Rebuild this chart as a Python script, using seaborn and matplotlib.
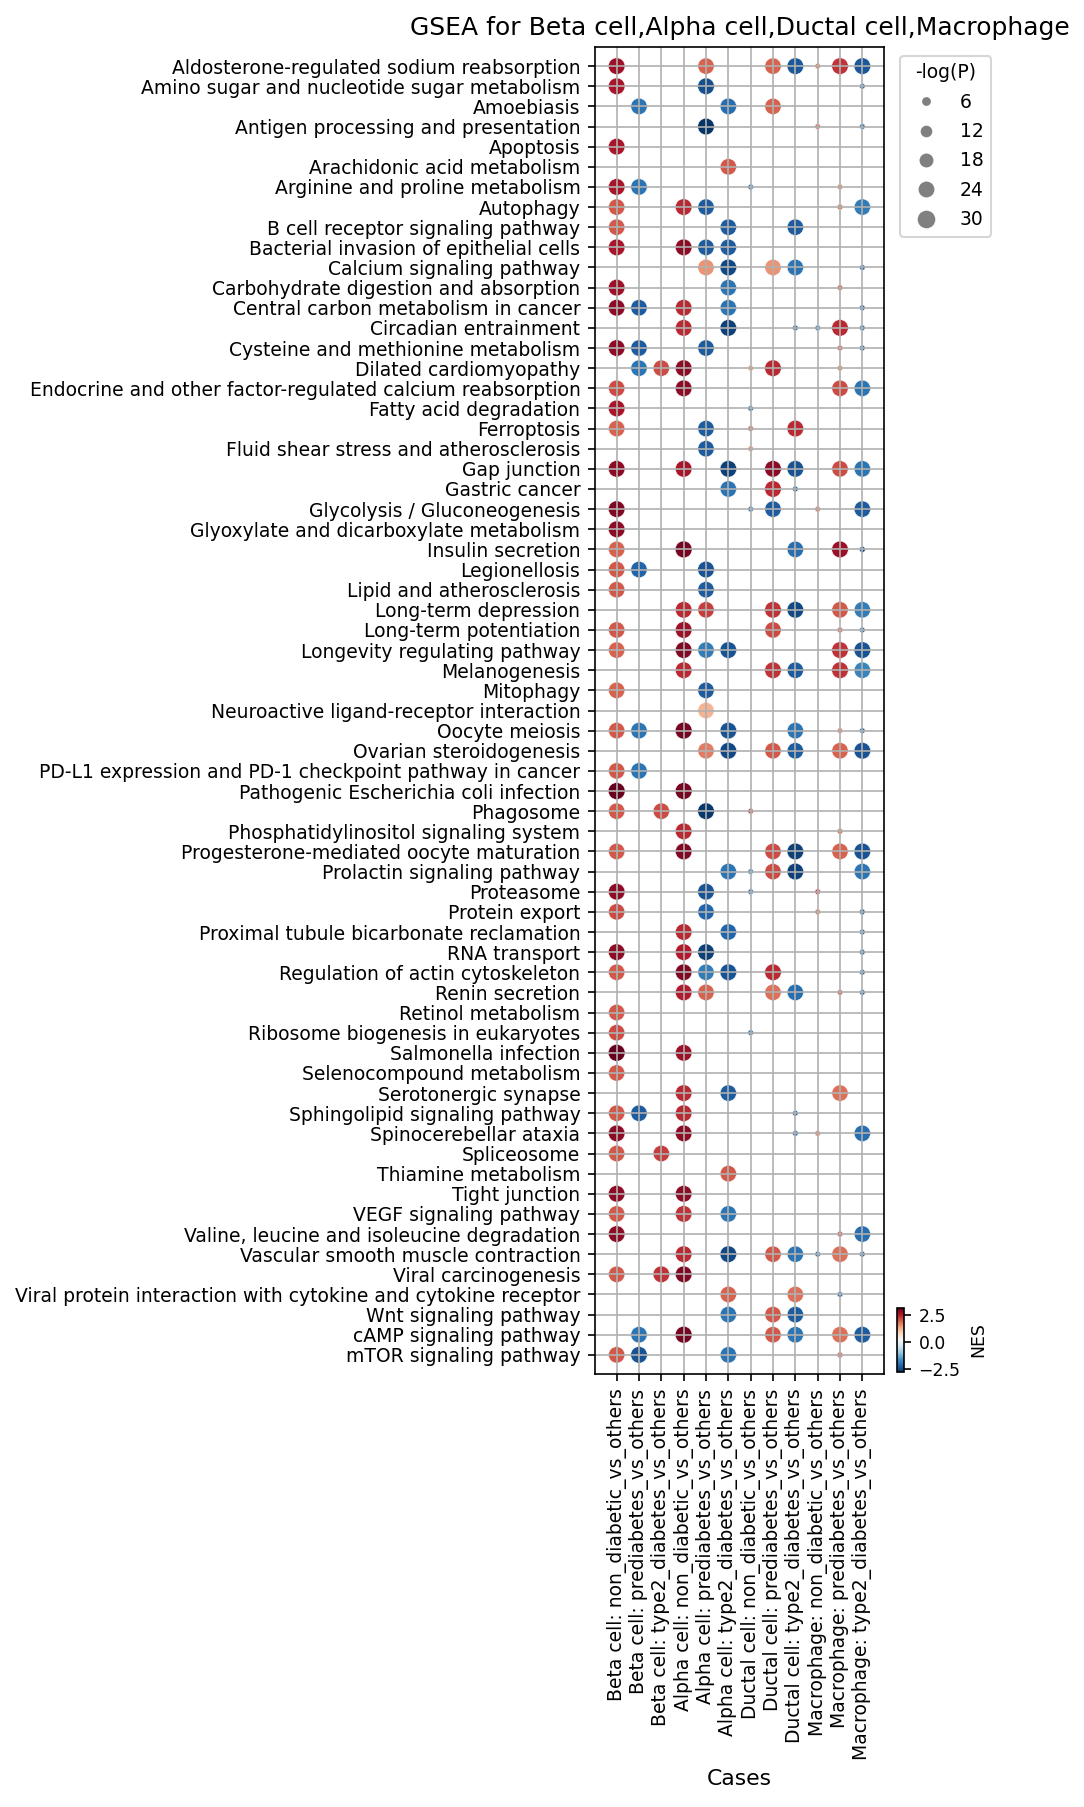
import numpy as np
import pandas as pd
import matplotlib
matplotlib.use("Agg")
import matplotlib.pyplot as plt
from matplotlib.colors import Normalize
from matplotlib.cm import ScalarMappable
from matplotlib.lines import Line2D
import seaborn as sns

_ = None  # no dot for this pathway / case

pathways = [
    "Aldosterone-regulated sodium reabsorption",
    "Amino sugar and nucleotide sugar metabolism",
    "Amoebiasis",
    "Antigen processing and presentation",
    "Apoptosis",
    "Arachidonic acid metabolism",
    "Arginine and proline metabolism",
    "Autophagy",
    "B cell receptor signaling pathway",
    "Bacterial invasion of epithelial cells",
    "Calcium signaling pathway",
    "Carbohydrate digestion and absorption",
    "Central carbon metabolism in cancer",
    "Circadian entrainment",
    "Cysteine and methionine metabolism",
    "Dilated cardiomyopathy",
    "Endocrine and other factor-regulated calcium reabsorption",
    "Fatty acid degradation",
    "Ferroptosis",
    "Fluid shear stress and atherosclerosis",
    "Gap junction",
    "Gastric cancer",
    "Glycolysis / Gluconeogenesis",
    "Glyoxylate and dicarboxylate metabolism",
    "Insulin secretion",
    "Legionellosis",
    "Lipid and atherosclerosis",
    "Long-term depression",
    "Long-term potentiation",
    "Longevity regulating pathway",
    "Melanogenesis",
    "Mitophagy",
    "Neuroactive ligand-receptor interaction",
    "Oocyte meiosis",
    "Ovarian steroidogenesis",
    "PD-L1 expression and PD-1 checkpoint pathway in cancer",
    "Pathogenic Escherichia coli infection",
    "Phagosome",
    "Phosphatidylinositol signaling system",
    "Progesterone-mediated oocyte maturation",
    "Prolactin signaling pathway",
    "Proteasome",
    "Protein export",
    "Proximal tubule bicarbonate reclamation",
    "RNA transport",
    "Regulation of actin cytoskeleton",
    "Renin secretion",
    "Retinol metabolism",
    "Ribosome biogenesis in eukaryotes",
    "Salmonella infection",
    "Selenocompound metabolism",
    "Serotonergic synapse",
    "Sphingolipid signaling pathway",
    "Spinocerebellar ataxia",
    "Spliceosome",
    "Thiamine metabolism",
    "Tight junction",
    "VEGF signaling pathway",
    "Valine, leucine and isoleucine degradation",
    "Vascular smooth muscle contraction",
    "Viral carcinogenesis",
    "Viral protein interaction with cytokine and cytokine receptor",
    "Wnt signaling pathway",
    "cAMP signaling pathway",
    "mTOR signaling pathway",
]

cases = [
    "Beta cell: non_diabetic_vs_others",
    "Beta cell: prediabetes_vs_others",
    "Beta cell: type2_diabetes_vs_others",
    "Alpha cell: non_diabetic_vs_others",
    "Alpha cell: prediabetes_vs_others",
    "Alpha cell: type2_diabetes_vs_others",
    "Ductal cell: non_diabetic_vs_others",
    "Ductal cell: prediabetes_vs_others",
    "Ductal cell: type2_diabetes_vs_others",
    "Macrophage: non_diabetic_vs_others",
    "Macrophage: prediabetes_vs_others",
    "Macrophage: type2_diabetes_vs_others",
]

# NES per pathway (rows) and case (columns)
nes = [
    [2.7, _, _, _, 1.9, _, _, 1.9, -2.35, 1.6, 2.3, -2.35],
    [2.6, _, _, _, -2.45, _, _, _, _, _, _, -2.0],
    [_, -2.0, _, _, _, -2.1, _, 1.9, _, _, _, _],
    [_, _, _, _, -2.75, _, _, _, _, 1.7, _, -2.0],
    [2.6, _, _, _, _, _, _, _, _, _, _, _],
    [_, _, _, _, _, 2.0, _, _, _, _, _, _],
    [2.6, -2.0, _, _, _, _, -1.9, _, _, _, 1.5, _],
    [2.0, _, _, 2.4, -2.3, _, _, _, _, _, 1.8, -1.9],
    [2.0, _, _, _, _, -2.3, _, _, -2.3, _, _, _],
    [2.6, _, _, 2.8, -2.3, -2.3, _, _, _, _, _, _],
    [_, _, _, _, 1.5, -2.5, _, 1.5, -2.0, _, _, -2.1],
    [2.7, _, _, _, _, -2.0, _, _, _, _, 1.9, _],
    [2.8, -2.3, _, 2.4, _, -2.0, _, _, _, _, _, -2.1],
    [_, _, _, 2.4, _, -2.6, _, _, -2.1, -1.6, 2.4, -2.0],
    [2.8, -2.3, _, _, -2.3, _, _, _, _, _, 1.8, -2.0],
    [_, -2.0, 2.1, 2.8, _, _, 1.4, 2.4, _, _, 1.5, _],
    [2.1, _, _, 2.8, _, _, _, _, _, _, 2.1, -2.0],
    [2.6, _, _, _, _, _, -1.9, _, _, _, _, _],
    [1.9, _, _, _, -2.3, _, 1.8, _, 2.4, _, _, _],
    [_, _, _, _, -2.3, _, 1.5, _, _, _, _, _],
    [2.8, _, _, 2.6, _, -2.6, _, 2.8, -2.4, _, 2.1, -2.0],
    [_, _, _, _, _, -2.0, _, 2.4, -2.2, _, _, _],
    [2.9, _, _, _, _, _, -1.9, -2.3, _, 1.7, _, -2.3],
    [2.8, _, _, _, _, _, _, _, _, _, _, _],
    [1.9, _, _, 3.0, _, _, _, _, -2.1, _, 2.7, -2.4],
    [2.0, -2.2, _, _, -2.4, _, _, _, _, _, _, _],
    [2.0, _, _, _, -2.3, _, _, _, _, _, _, _],
    [_, _, _, 2.4, 2.2, _, _, 2.3, -2.5, _, 2.0, -1.9],
    [2.0, _, _, 2.7, _, _, _, 2.1, _, _, 1.8, -2.0],
    [1.9, _, _, 2.9, -1.9, -2.4, _, _, _, _, 2.3, -2.4],
    [_, _, _, 2.4, _, _, _, 2.3, -2.3, _, 2.3, -1.8],
    [1.9, _, _, _, -2.3, _, _, _, _, _, _, _],
    [_, _, _, _, 1.2, _, _, _, _, _, _, _],
    [2.0, -2.0, _, 3.0, _, -2.4, _, _, -2.0, _, 1.6, -2.0],
    [_, _, _, _, 1.7, -2.5, _, 2.0, -2.3, _, 1.9, -2.4],
    [2.0, -2.0, _, _, _, _, _, _, _, _, _, _],
    [3.1, _, _, 3.0, _, _, _, _, _, _, _, _],
    [2.0, _, 2.1, _, -2.7, _, 2.1, _, _, _, _, _],
    [_, _, _, 2.4, _, _, _, _, _, _, 1.8, _],
    [2.0, _, _, 2.9, _, _, _, 2.1, -2.6, _, 1.9, -2.4],
    [_, _, _, _, _, -2.0, -1.7, 2.1, -2.6, _, _, -2.0],
    [2.8, _, _, _, -2.4, _, -2.0, _, _, 2.1, _, _],
    [2.1, _, _, _, -2.2, _, _, _, _, 1.7, _, -2.3],
    [_, _, _, 2.4, _, -2.2, _, _, _, _, _, -2.0],
    [2.8, _, _, 2.5, -2.6, _, _, _, _, _, _, -2.1],
    [2.0, _, _, 2.9, -1.9, -2.4, _, 2.4, _, _, _, -2.0],
    [_, _, _, 2.5, 1.9, _, _, 1.8, -2.1, _, 1.9, -2.0],
    [2.0, _, _, _, _, _, _, _, _, _, _, _],
    [2.1, _, _, _, _, _, -2.0, _, _, _, _, _],
    [3.1, _, _, 2.7, _, _, _, _, _, _, _, _],
    [2.0, _, _, _, _, _, _, _, _, _, _, _],
    [_, _, _, 2.4, _, -2.3, _, _, _, _, 1.8, _],
    [2.0, -2.3, _, 2.4, _, _, _, _, -2.1, _, _, _],
    [2.8, _, _, 2.8, _, _, _, _, -2.1, 1.6, _, -2.1],
    [2.0, _, 2.2, _, _, _, _, _, _, _, _, _],
    [_, _, _, _, _, 2.0, _, _, _, _, _, _],
    [2.8, _, _, 2.8, _, _, _, _, _, _, _, _],
    [2.0, _, _, 2.3, _, -2.0, _, _, _, _, _, _],
    [2.8, _, _, _, _, _, _, _, _, _, 1.9, -2.1],
    [_, _, _, 2.4, _, -2.5, _, 2.0, -2.0, -2.0, 1.8, -2.1],
    [2.0, _, 2.3, 2.9, _, _, _, _, _, _, _, _],
    [_, _, _, _, _, 1.9, _, _, 1.8, _, -2.2, _],
    [_, _, _, _, _, -2.0, _, 2.0, -2.3, _, _, _],
    [_, -2.0, _, 3.0, _, _, _, 2.0, -2.0, _, 1.8, -2.3],
    [2.0, -2.4, _, _, _, -2.0, _, _, _, _, 1.9, _],
]

# -log(P) per pathway (rows) and case (columns)
logp = [
    [32, _, _, _, 31, _, _, 31, 32, 2, 32, 32],
    [32, _, _, _, 32, _, _, _, _, _, _, 2],
    [_, 31, _, _, _, 31, _, 31, _, _, _, _],
    [_, _, _, _, 32, _, _, _, _, 2, _, 2],
    [32, _, _, _, _, _, _, _, _, _, _, _],
    [_, _, _, _, _, 31, _, _, _, _, _, _],
    [32, 31, _, _, _, _, 2, _, _, _, 2, _],
    [31, _, _, 32, 31, _, _, _, _, _, 2, 31],
    [31, _, _, _, _, 31, _, _, 31, _, _, _],
    [32, _, _, 32, 31, 31, _, _, _, _, _, _],
    [_, _, _, _, 31, 32, _, 31, 31, _, _, 2],
    [32, _, _, _, _, 31, _, _, _, _, 2, _],
    [32, 31, _, 32, _, 31, _, _, _, _, _, 2],
    [_, _, _, 32, _, 32, _, _, 2, 2, 32, 2],
    [32, 31, _, _, 31, _, _, _, _, _, 2, 2],
    [_, 31, 31, 32, _, _, 2, 32, _, _, 2, _],
    [31, _, _, 32, _, _, _, _, _, _, 31, 31],
    [32, _, _, _, _, _, 2, _, _, _, _, _],
    [31, _, _, _, 31, _, 2, _, 32, _, _, _],
    [_, _, _, _, 31, _, 2, _, _, _, _, _],
    [32, _, _, 32, _, 32, _, 32, 32, _, 31, 31],
    [_, _, _, _, _, 31, _, 32, 2, _, _, _],
    [32, _, _, _, _, _, 2, 31, _, 2, _, 31],
    [32, _, _, _, _, _, _, _, _, _, _, _],
    [31, _, _, 33, _, _, _, _, 31, _, 32, 2.5],
    [31, 31, _, _, 32, _, _, _, _, _, _, _],
    [31, _, _, _, 31, _, _, _, _, _, _, _],
    [_, _, _, 32, 31, _, _, 32, 32, _, 31, 31],
    [31, _, _, 32, _, _, _, 31, _, _, 2, 2],
    [31, _, _, 32, 31, 32, _, _, _, _, 32, 32],
    [_, _, _, 32, _, _, _, 32, 31, _, 32, 31],
    [31, _, _, _, 31, _, _, _, _, _, _, _],
    [_, _, _, _, 31, _, _, _, _, _, _, _],
    [31, 31, _, 33, _, 32, _, _, 31, _, 2, 2],
    [_, _, _, _, 31, 32, _, 31, 31, _, 31, 32],
    [31, 31, _, _, _, _, _, _, _, _, _, _],
    [33, _, _, 33, _, _, _, _, _, _, _, _],
    [31, _, 31, _, 32, _, 2, _, _, _, _, _],
    [_, _, _, 32, _, _, _, _, _, _, 2, _],
    [31, _, _, 32, _, _, _, 31, 32, _, 31, 32],
    [_, _, _, _, _, 31, 2, 31, 32, _, _, 31],
    [32, _, _, _, 32, _, 2, _, _, 2, _, _],
    [31, _, _, _, 31, _, _, _, _, 2, _, 2],
    [_, _, _, 32, _, 31, _, _, _, _, _, 2],
    [32, _, _, 32, 32, _, _, _, _, _, _, 2],
    [31, _, _, 32, 31, 32, _, 32, _, _, _, 2],
    [_, _, _, 32, 31, _, _, 31, 31, _, 2, 2],
    [31, _, _, _, _, _, _, _, _, _, _, _],
    [31, _, _, _, _, _, 2, _, _, _, _, _],
    [33, _, _, 32, _, _, _, _, _, _, _, _],
    [31, _, _, _, _, _, _, _, _, _, _, _],
    [_, _, _, 32, _, 31, _, _, _, _, 31, _],
    [31, 31, _, 32, _, _, _, _, 2, _, _, _],
    [32, _, _, 32, _, _, _, _, 2, 2, _, 31],
    [31, _, 31, _, _, _, _, _, _, _, _, _],
    [_, _, _, _, _, 31, _, _, _, _, _, _],
    [32, _, _, 32, _, _, _, _, _, _, _, _],
    [31, _, _, 32, _, 31, _, _, _, _, _, _],
    [32, _, _, _, _, _, _, _, _, _, 2, 31],
    [_, _, _, 32, _, 32, _, 31, 31, 2, 31, 2],
    [31, _, 32, 32, _, _, _, _, _, _, _, _],
    [_, _, _, _, _, 31, _, _, 31, _, 2, _],
    [_, _, _, _, _, 31, _, 31, 31, _, _, _],
    [_, 31, _, 33, _, _, _, 31, 31, _, 31, 32],
    [31, 32, _, _, _, 31, _, _, _, _, 2, _],
]

legend_logp = [6, 12, 18, 24, 30]
cbar_ticks = [-2.5, 0.0, 2.5]

NES_MIN, NES_MAX = -2.8, 3.12
SIZE_MIN, SIZE_MAX = 3.6, 64.7
LOGP_NORM = (0, 33)


def dot_area(p):
    return SIZE_MIN + (p - LOGP_NORM[0]) / (LOGP_NORM[1] - LOGP_NORM[0]) * (SIZE_MAX - SIZE_MIN)


records = []
for i, row in enumerate(nes):
    for j, v in enumerate(row):
        if v is not None:
            records.append({"case": j, "pathway": i, "NES": v, "logp": logp[i][j]})
df = pd.DataFrame(records)

fig = plt.figure(figsize=(1084 / 150, 1807 / 150), dpi=150)
ax = fig.add_axes([595 / 1084, 1 - 1374 / 1807, 289 / 1084, 1327 / 1807])

sns.scatterplot(
    data=df, x="case", y="pathway", hue="NES", size="logp",
    palette="RdBu_r", hue_norm=(NES_MIN, NES_MAX),
    sizes=(SIZE_MIN, SIZE_MAX), size_norm=LOGP_NORM,
    legend=False, ax=ax,
)

ax.set_xlim(-0.97, 11.97)
ax.set_ylim(len(pathways) - 1 + 0.95, -0.95)
ax.set_xticks(range(len(cases)))
ax.set_xticklabels(cases, rotation=90, fontsize=9)
ax.set_yticks(range(len(pathways)))
ax.set_yticklabels(pathways, fontsize=9)
ax.grid(True)
ax.set_xlabel("Cases", fontsize=10.5)
ax.set_ylabel("")
ax.set_title("GSEA for Beta cell,Alpha cell,Ductal cell,Macrophage", fontsize=12)

# size legend
handles = [
    Line2D([], [], marker="o", linestyle="", color="#808080",
           markeredgewidth=0, markersize=1.1 * np.sqrt(dot_area(p)), label=str(p))
    for p in legend_logp
]
fig.legend(handles=handles, title="-log(P)", loc="upper left",
           bbox_to_anchor=(900 / 1084, 1 - 56 / 1807), borderaxespad=0,
           fontsize=9, title_fontsize=9, labelspacing=0.55)

# colorbar
cax = fig.add_axes([897 / 1084, 1 - 1372 / 1807, 7 / 1084, 64 / 1807])
sm = ScalarMappable(norm=Normalize(NES_MIN, NES_MAX), cmap="RdBu_r")
cbar = fig.colorbar(sm, cax=cax)
cbar.set_ticks(cbar_ticks)
cbar.ax.tick_params(labelsize=8.3)
cbar.set_label("NES", fontsize=8.3)

fig.savefig("out.png", dpi=150)
